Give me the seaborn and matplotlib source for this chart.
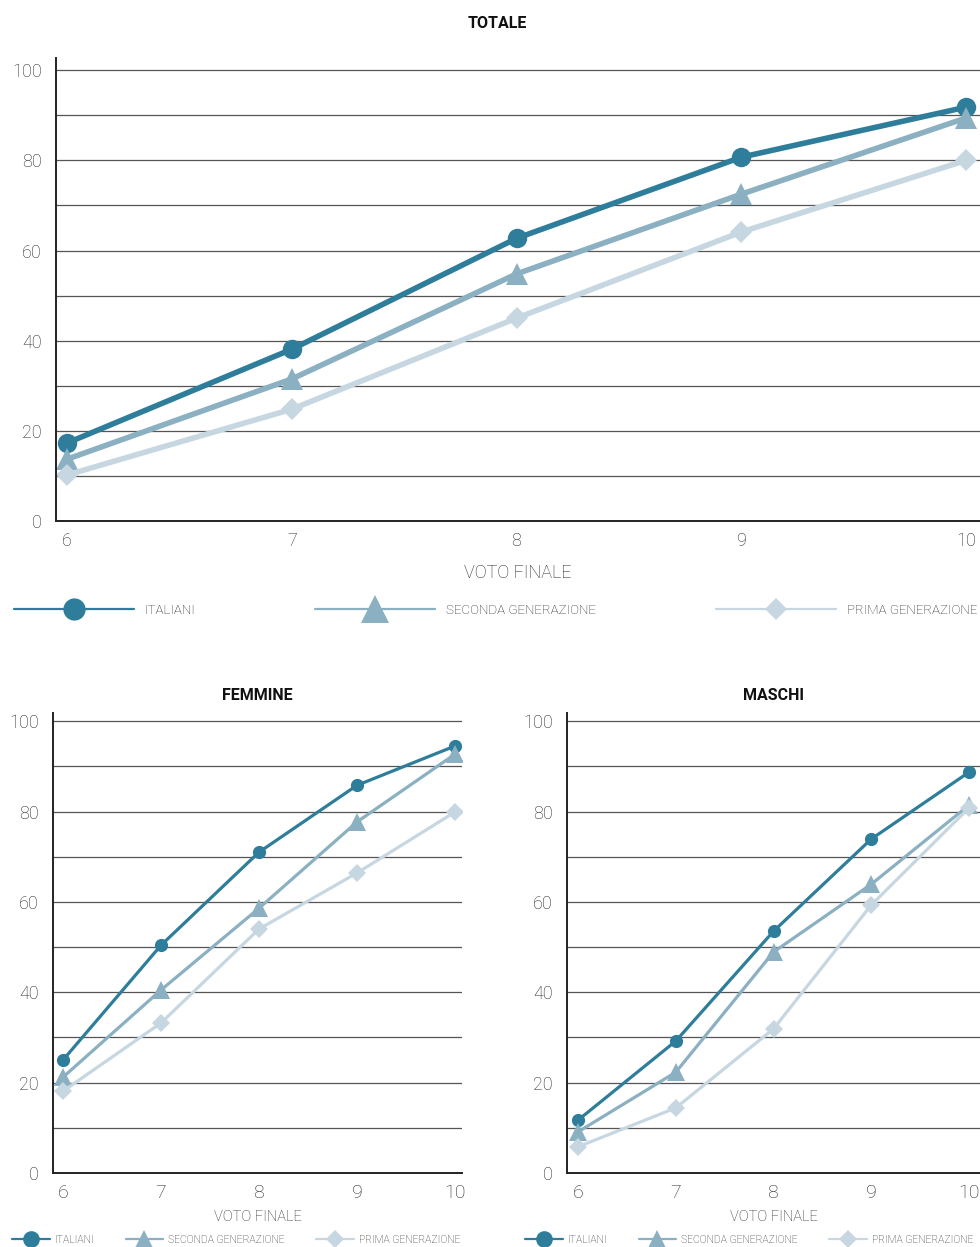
import numpy as np
import pandas as pd
import matplotlib.pyplot as plt
from matplotlib.lines import Line2D
import seaborn as sns

sns.set_style("white")
plt.rcParams['font.family'] = ['Roboto', 'DejaVu Sans']

# valori
voti = [6, 7, 8, 9, 10]
gruppi = ['ITALIANI', 'SECONDA GENERAZIONE', 'PRIMA GENERAZIONE']

totale_italiani = [17.3, 38.1, 62.7, 80.7, 91.8]
totale_seconda = [13.7, 31.5, 54.8, 72.5, 89.4]
totale_prima = [10.2, 24.8, 45.0, 64.1, 80.0]

femmine_italiani = [25.0, 50.4, 71.0, 85.8, 94.5]
femmine_seconda = [21.2, 40.5, 58.6, 77.7, 92.7]
femmine_prima = [18.1, 33.2, 54.0, 66.4, 79.9]

maschi_italiani = [11.7, 29.2, 53.5, 73.9, 88.7]
maschi_seconda = [9.1, 22.3, 48.9, 63.9, 81.4]
maschi_prima = [5.8, 14.4, 31.9, 59.3, 80.8]

colori = {'ITALIANI': '#2e7d9a', 'SECONDA GENERAZIONE': '#8ab0c2', 'PRIMA GENERAZIONE': '#c6d7e1'}
marcatori = {'ITALIANI': 'o', 'SECONDA GENERAZIONE': '^', 'PRIMA GENERAZIONE': 'D'}
grigio = '#262626'

# dimensioni dei marcatori (o, ^, D)
ms_grande = [14, 16, 11.5]
ms_piccolo = [9.5, 12.5, 9]
ms_leg_grande = [16, 20, 11.7]
ms_leg_piccolo = [12, 12.5, 9]


def make_df(ita, sec, pri):
    rows = []
    for g, vals in zip(gruppi, [ita, sec, pri]):
        for v, y in zip(voti, vals):
            rows.append({'voto': v, 'valore': y, 'gruppo': g})
    return pd.DataFrame(rows)


def draw_panel(ax, df, lw, sizes, xlim, ylim, xtick_fs):
    for g, size in zip(gruppi, sizes):
        sub = df[df['gruppo'] == g]
        sns.lineplot(data=sub, x='voto', y='valore', color=colori[g], marker=marcatori[g],
                     linewidth=lw, markersize=size, markeredgewidth=0, ax=ax, legend=False)
    ax.set_xlim(*xlim)
    ax.set_ylim(*ylim)
    ax.set_xticks(voti)
    ax.set_yticks(np.arange(0, 101, 10))
    ax.set_yticklabels([str(t) if t % 20 == 0 else '' for t in range(0, 101, 10)])
    ax.grid(axis='y', color='#555555', linewidth=0.9)
    ax.grid(axis='x', visible=False)
    for s in ['top', 'right']:
        ax.spines[s].set_visible(False)
    for s in ['left', 'bottom']:
        ax.spines[s].set_color('#222222')
        ax.spines[s].set_linewidth(1.4)
    ax.set_axisbelow(True)
    ax.tick_params(axis='y', length=7, width=1, color='#333333', pad=3, labelsize=13, labelcolor=grigio)
    ax.tick_params(axis='x', length=6, width=1, color='#333333', pad=2, labelsize=xtick_fs, labelcolor=grigio)
    for lab in ax.get_xticklabels() + ax.get_yticklabels():
        lab.set_fontweight('light')
    ax.set_ylabel('')


def add_legend(fig, x, y, fs, hl, sizes, tp, cs):
    handles = []
    for g, size in zip(gruppi, sizes):
        handles.append(Line2D([0], [0], color=colori[g], marker=marcatori[g], markersize=size,
                              markeredgewidth=0, linewidth=1.6))
    leg = fig.legend(handles, gruppi, loc='center left', bbox_to_anchor=(x, y), ncol=3,
                     frameon=False, fontsize=fs, handlelength=hl, handletextpad=tp,
                     columnspacing=cs, borderpad=0, borderaxespad=0, markerscale=1)
    for t in leg.get_texts():
        t.set_color(grigio)
        t.set_fontweight('light')


fig = plt.figure(figsize=(9.8, 12.47), dpi=100)

# TOTALE
ax_tot = fig.add_axes([56 / 980, 1 - 521 / 1247, 924 / 980, 463 / 1247])
draw_panel(ax_tot, make_df(totale_italiani, totale_seconda, totale_prima), 4.0, ms_grande,
           (5.951, 10.062), (0, 102.7), 13)
ax_tot.set_xlabel('VOTO FINALE', fontsize=13, color=grigio, fontweight='light', labelpad=10)
fig.text(497 / 980, 1 - 23 / 1247, 'TOTALE', ha='center', va='center', fontsize=11.5,
         fontweight='bold', color='#111111')
add_legend(fig, 14 / 980, 1 - 610 / 1247, 9.6, 9.0, ms_leg_grande, 0.8, 9.0)

# FEMMINE
ax_f = fig.add_axes([53 / 980, 1 - 1173 / 1247, 409 / 980, 460 / 1247])
draw_panel(ax_f, make_df(femmine_italiani, femmine_seconda, femmine_prima), 2.3, ms_piccolo,
           (5.898, 10.071), (0, 101.8), 14)
ax_f.set_xlabel('VOTO FINALE', fontsize=10.5, color=grigio, fontweight='light', labelpad=6)
ax_f.set_title('FEMMINE', fontsize=11.5, fontweight='bold', color='#111111', pad=9)
add_legend(fig, 12 / 980, 7 / 1247, 7.5, 3.6, ms_leg_piccolo, 0.5, 3.0)

# MASCHI
ax_m = fig.add_axes([567 / 980, 1 - 1173 / 1247, 413 / 980, 460 / 1247])
draw_panel(ax_m, make_df(maschi_italiani, maschi_seconda, maschi_prima), 2.3, ms_piccolo,
           (5.887, 10.113), (0, 101.8), 14)
ax_m.set_xlabel('VOTO FINALE', fontsize=10.5, color=grigio, fontweight='light', labelpad=6)
ax_m.set_title('MASCHI', fontsize=11.5, fontweight='bold', color='#111111', pad=9)
add_legend(fig, 525 / 980, 7 / 1247, 7.5, 3.6, ms_leg_piccolo, 0.5, 3.0)

fig.savefig('out.png', dpi=100)
